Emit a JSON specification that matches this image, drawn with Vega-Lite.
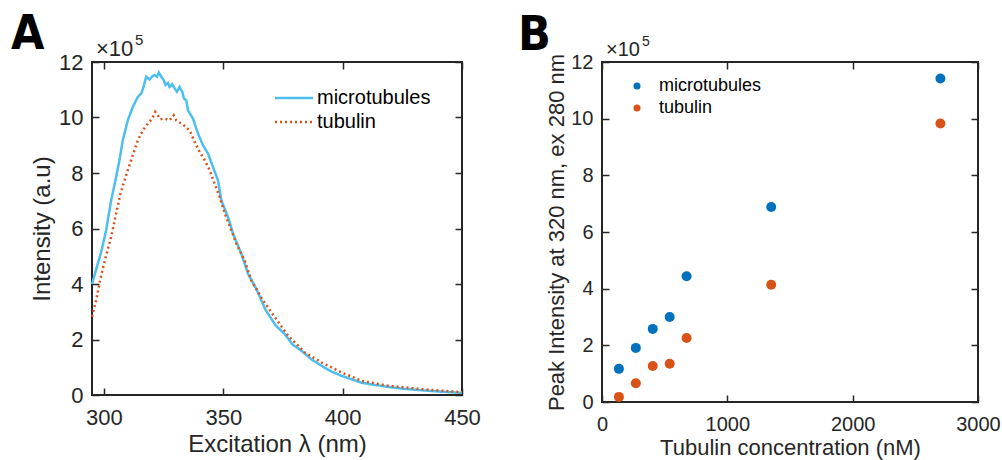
{
  "$schema": "https://vega.github.io/schema/vega-lite/v6.json",
  "background": "white",
  "padding": {"left": 10, "top": 10, "right": 5, "bottom": 5},
  "bounds": "flush",
  "spacing": 140,
  "resolve": {"scale": {"color": "independent", "strokeDash": "independent"}, "legend": {"color": "independent", "strokeDash": "independent"}},
  "datasets": {
    "spectra": [
      {"wl": 295, "I": 4.0, "s": "microtubules"},
      {"wl": 298.8, "I": 5.14, "s": "microtubules"},
      {"wl": 300.9, "I": 5.93, "s": "microtubules"},
      {"wl": 303, "I": 7.01, "s": "microtubules"},
      {"wl": 305.1, "I": 7.85, "s": "microtubules"},
      {"wl": 306.5, "I": 8.46, "s": "microtubules"},
      {"wl": 307.9, "I": 9.18, "s": "microtubules"},
      {"wl": 310, "I": 9.9, "s": "microtubules"},
      {"wl": 312.1, "I": 10.38, "s": "microtubules"},
      {"wl": 314.2, "I": 10.74, "s": "microtubules"},
      {"wl": 315.6, "I": 10.86, "s": "microtubules"},
      {"wl": 316.6, "I": 11.1, "s": "microtubules"},
      {"wl": 317.7, "I": 11.47, "s": "microtubules"},
      {"wl": 319.1, "I": 11.37, "s": "microtubules"},
      {"wl": 320.1, "I": 11.47, "s": "microtubules"},
      {"wl": 321.2, "I": 11.53, "s": "microtubules"},
      {"wl": 322.2, "I": 11.47, "s": "microtubules"},
      {"wl": 323, "I": 11.62, "s": "microtubules"},
      {"wl": 324, "I": 11.47, "s": "microtubules"},
      {"wl": 325, "I": 11.35, "s": "microtubules"},
      {"wl": 325.8, "I": 11.17, "s": "microtubules"},
      {"wl": 326.8, "I": 11.25, "s": "microtubules"},
      {"wl": 327.5, "I": 11.1, "s": "microtubules"},
      {"wl": 328.6, "I": 11.2, "s": "microtubules"},
      {"wl": 329.6, "I": 11.05, "s": "microtubules"},
      {"wl": 330.6, "I": 10.93, "s": "microtubules"},
      {"wl": 331.7, "I": 11.1, "s": "microtubules"},
      {"wl": 332.8, "I": 10.93, "s": "microtubules"},
      {"wl": 333.5, "I": 10.69, "s": "microtubules"},
      {"wl": 334.5, "I": 10.62, "s": "microtubules"},
      {"wl": 335.2, "I": 10.26, "s": "microtubules"},
      {"wl": 337.3, "I": 9.96, "s": "microtubules"},
      {"wl": 339.4, "I": 9.42, "s": "microtubules"},
      {"wl": 341.5, "I": 9.0, "s": "microtubules"},
      {"wl": 343.6, "I": 8.7, "s": "microtubules"},
      {"wl": 345.7, "I": 8.21, "s": "microtubules"},
      {"wl": 347.8, "I": 7.73, "s": "microtubules"},
      {"wl": 349.2, "I": 7.01, "s": "microtubules"},
      {"wl": 352, "I": 6.41, "s": "microtubules"},
      {"wl": 354.1, "I": 5.81, "s": "microtubules"},
      {"wl": 357.6, "I": 5.08, "s": "microtubules"},
      {"wl": 360.4, "I": 4.36, "s": "microtubules"},
      {"wl": 364, "I": 3.8, "s": "microtubules"},
      {"wl": 367.5, "I": 3.1, "s": "microtubules"},
      {"wl": 372, "I": 2.5, "s": "microtubules"},
      {"wl": 375.8, "I": 2.19, "s": "microtubules"},
      {"wl": 379, "I": 1.82, "s": "microtubules"},
      {"wl": 382.8, "I": 1.59, "s": "microtubules"},
      {"wl": 387, "I": 1.28, "s": "microtubules"},
      {"wl": 391.2, "I": 1.05, "s": "microtubules"},
      {"wl": 395, "I": 0.86, "s": "microtubules"},
      {"wl": 399.6, "I": 0.69, "s": "microtubules"},
      {"wl": 404, "I": 0.56, "s": "microtubules"},
      {"wl": 408, "I": 0.44, "s": "microtubules"},
      {"wl": 413, "I": 0.37, "s": "microtubules"},
      {"wl": 419.2, "I": 0.29, "s": "microtubules"},
      {"wl": 426, "I": 0.22, "s": "microtubules"},
      {"wl": 433.2, "I": 0.17, "s": "microtubules"},
      {"wl": 441, "I": 0.12, "s": "microtubules"},
      {"wl": 450, "I": 0.08, "s": "microtubules"},
      {"wl": 295, "I": 2.82, "s": "tubulin"},
      {"wl": 296.7, "I": 3.4, "s": "tubulin"},
      {"wl": 298.8, "I": 4.3, "s": "tubulin"},
      {"wl": 300.9, "I": 5.02, "s": "tubulin"},
      {"wl": 303, "I": 5.69, "s": "tubulin"},
      {"wl": 305.1, "I": 6.53, "s": "tubulin"},
      {"wl": 306.9, "I": 7.25, "s": "tubulin"},
      {"wl": 308.2, "I": 7.61, "s": "tubulin"},
      {"wl": 310, "I": 8.1, "s": "tubulin"},
      {"wl": 312.1, "I": 8.64, "s": "tubulin"},
      {"wl": 314.2, "I": 9.18, "s": "tubulin"},
      {"wl": 316.3, "I": 9.54, "s": "tubulin"},
      {"wl": 318.4, "I": 9.78, "s": "tubulin"},
      {"wl": 320.2, "I": 9.96, "s": "tubulin"},
      {"wl": 321.5, "I": 10.2, "s": "tubulin"},
      {"wl": 322.6, "I": 10.08, "s": "tubulin"},
      {"wl": 323.6, "I": 9.94, "s": "tubulin"},
      {"wl": 325.4, "I": 9.96, "s": "tubulin"},
      {"wl": 327.5, "I": 9.9, "s": "tubulin"},
      {"wl": 329.2, "I": 10.08, "s": "tubulin"},
      {"wl": 330.3, "I": 9.9, "s": "tubulin"},
      {"wl": 332.4, "I": 9.78, "s": "tubulin"},
      {"wl": 334.5, "I": 9.66, "s": "tubulin"},
      {"wl": 336.2, "I": 9.48, "s": "tubulin"},
      {"wl": 338, "I": 9.12, "s": "tubulin"},
      {"wl": 340.1, "I": 8.76, "s": "tubulin"},
      {"wl": 342.2, "I": 8.46, "s": "tubulin"},
      {"wl": 344.3, "I": 8.1, "s": "tubulin"},
      {"wl": 346.4, "I": 7.61, "s": "tubulin"},
      {"wl": 348.5, "I": 7.13, "s": "tubulin"},
      {"wl": 351, "I": 6.45, "s": "tubulin"},
      {"wl": 353.4, "I": 5.93, "s": "tubulin"},
      {"wl": 355.5, "I": 5.45, "s": "tubulin"},
      {"wl": 359, "I": 4.84, "s": "tubulin"},
      {"wl": 361.8, "I": 4.12, "s": "tubulin"},
      {"wl": 366, "I": 3.5, "s": "tubulin"},
      {"wl": 370.2, "I": 2.97, "s": "tubulin"},
      {"wl": 377.2, "I": 2.13, "s": "tubulin"},
      {"wl": 384.2, "I": 1.53, "s": "tubulin"},
      {"wl": 391.2, "I": 1.17, "s": "tubulin"},
      {"wl": 399.6, "I": 0.81, "s": "tubulin"},
      {"wl": 408, "I": 0.51, "s": "tubulin"},
      {"wl": 419.2, "I": 0.33, "s": "tubulin"},
      {"wl": 433.2, "I": 0.21, "s": "tubulin"},
      {"wl": 450, "I": 0.1, "s": "tubulin"}
    ],
    "peaks": [
      {"c": 135, "P": 1.17, "s": "microtubules"},
      {"c": 270, "P": 1.91, "s": "microtubules"},
      {"c": 405, "P": 2.58, "s": "microtubules"},
      {"c": 540, "P": 3.0, "s": "microtubules"},
      {"c": 675, "P": 4.44, "s": "microtubules"},
      {"c": 1350, "P": 6.88, "s": "microtubules"},
      {"c": 2700, "P": 11.42, "s": "microtubules"},
      {"c": 135, "P": 0.18, "s": "tubulin"},
      {"c": 270, "P": 0.66, "s": "tubulin"},
      {"c": 405, "P": 1.27, "s": "tubulin"},
      {"c": 540, "P": 1.35, "s": "tubulin"},
      {"c": 675, "P": 2.26, "s": "tubulin"},
      {"c": 1350, "P": 4.14, "s": "tubulin"},
      {"c": 2700, "P": 9.83, "s": "tubulin"}
    ],
    "one": [{"k": 1}]
  },
  "config": {
    "font": "Liberation Sans",
    "view": {"stroke": "#262626", "strokeWidth": 2},
    "axis": {
      "grid": false,
      "domain": false,
      "ticks": true,
      "offset": -7,
      "tickColor": "#262626",
      "tickOpacity": 1,
      "tickWidth": 1.5,
      "tickSize": 7,
      "zindex": 1,
      "labelFlush": false,
      "labelColor": "#262626",
      "labelFont": "Liberation Sans",
      "titleColor": "#262626",
      "titleFont": "Liberation Sans",
      "titleFontWeight": "normal"
    },
    "legend": {
      "labelFont": "Liberation Sans",
      "labelColor": "#000000",
      "padding": 0
    }
  },
  "hconcat": [
    {
      "width": 370,
      "height": 333,
      "resolve": {"axis": {"x": "independent", "y": "independent"}},
      "layer": [
        {
          "data": {"name": "spectra"},
          "mark": {"type": "line", "strokeWidth": 2.5, "strokeCap": "butt"},
          "encoding": {
            "x": {"field": "wl", "type": "quantitative", "scale": {"domain": [295, 450], "nice": false, "zero": false},
                  "axis": {"values": [300, 350, 400, 450], "labelFontSize": 22, "labelPadding": 12, "title": "Excitation λ (nm)", "titleFontSize": 24, "titlePadding": 4}},
            "y": {"field": "I", "type": "quantitative", "scale": {"domain": [0, 12], "nice": false, "zero": true},
                  "axis": {"values": [0, 2, 4, 6, 8, 10, 12], "labelFontSize": 22, "labelPadding": 9, "title": "Intensity (a.u)", "titleFontSize": 24, "titlePadding": 4}},
            "color": {"field": "s", "type": "nominal", "scale": {"domain": ["microtubules", "tubulin"], "range": ["#4DBEEE", "#D95319"]},
                      "legend": {"orient": "none", "legendX": 191, "legendY": 25, "title": null, "labelFontSize": 20, "symbolType": "M-2,0H2", "symbolSize": 361, "symbolStrokeWidth": 2.5, "labelOffset": 12, "rowPadding": 3}},
            "strokeDash": {"field": "s", "type": "nominal", "scale": {"domain": ["microtubules", "tubulin"], "range": [[1, 0], [2, 3]]},
                      "legend": {"orient": "none", "legendX": 191, "legendY": 25, "title": null, "labelFontSize": 20, "symbolType": "M-2,0H2", "symbolSize": 361, "symbolStrokeWidth": 2.5, "labelOffset": 12, "rowPadding": 3}}
          }
        },
        {
          "data": {"name": "spectra"},
          "mark": {"type": "point", "opacity": 0},
          "encoding": {
            "x": {"field": "wl", "type": "quantitative", "scale": {"domain": [295, 450], "nice": false, "zero": false}, "axis": {"orient": "top", "values": [300, 350, 400, 450], "labels": false, "title": null}},
            "y": {"field": "I", "type": "quantitative", "scale": {"domain": [0, 12], "nice": false, "zero": true}, "axis": {"orient": "right", "values": [0, 2, 4, 6, 8, 10, 12], "labels": false, "title": null}}
          }
        },
        {
          "data": {"name": "one"},
          "mark": {"type": "text", "text": "A", "align": "left", "baseline": "alphabetic", "dx": -81, "dy": -13, "fontSize": 48, "font": "Liberation Sans Narrow, DejaVu Sans Condensed, Liberation Sans, sans-serif", "fontWeight": "bold", "color": "#000000"},
          "encoding": {"x": {"datum": 295, "type": "quantitative", "scale": {"domain": [295, 450], "nice": false, "zero": false}, "axis": null}, "y": {"datum": 12, "type": "quantitative", "scale": {"domain": [0, 12], "nice": false, "zero": true}, "axis": null}}
        },
        {
          "data": {"name": "one"},
          "mark": {"type": "text", "text": "×10", "align": "left", "baseline": "alphabetic", "dx": 4, "dy": -6, "fontSize": 22, "color": "#262626"},
          "encoding": {"x": {"datum": 295, "type": "quantitative", "scale": {"domain": [295, 450], "nice": false, "zero": false}, "axis": null}, "y": {"datum": 12, "type": "quantitative", "scale": {"domain": [0, 12], "nice": false, "zero": true}, "axis": null}}
        },
        {
          "data": {"name": "one"},
          "mark": {"type": "text", "text": "5", "align": "left", "baseline": "alphabetic", "dx": 43, "dy": -17, "fontSize": 15, "color": "#262626"},
          "encoding": {"x": {"datum": 295, "type": "quantitative", "scale": {"domain": [295, 450], "nice": false, "zero": false}, "axis": null}, "y": {"datum": 12, "type": "quantitative", "scale": {"domain": [0, 12], "nice": false, "zero": true}, "axis": null}}
        }
      ]
    },
    {
      "width": 376,
      "height": 340,
      "resolve": {"axis": {"x": "independent", "y": "independent"}},
      "layer": [
        {
          "data": {"name": "peaks"},
          "mark": {"type": "point", "filled": true, "shape": "circle", "size": 100, "opacity": 1},
          "encoding": {
            "x": {"field": "c", "type": "quantitative", "scale": {"domain": [0, 3000], "nice": false, "zero": true},
                  "axis": {"values": [0, 1000, 2000, 3000], "format": "d", "labelFontSize": 20, "labelPadding": 12, "title": "Tubulin concentration (nM)", "titleFontSize": 22, "titlePadding": 3}},
            "y": {"field": "P", "type": "quantitative", "scale": {"domain": [0, 12], "nice": false, "zero": true},
                  "axis": {"values": [0, 2, 4, 6, 8, 10, 12], "labelFontSize": 20, "labelPadding": 9, "title": "Peak Intensity at 320 nm, ex 280 nm", "titleFontSize": 22, "titlePadding": 2}},
            "color": {"field": "s", "type": "nominal", "scale": {"domain": ["microtubules", "tubulin"], "range": ["#0072BD", "#D95319"]},
                      "legend": {"orient": "none", "legendX": 26, "legendY": 15, "title": null, "labelFontSize": 18, "symbolType": "circle", "symbolSize": 50, "labelOffset": 13, "rowPadding": 4}}
          }
        },
        {
          "data": {"name": "peaks"},
          "mark": {"type": "point", "opacity": 0},
          "encoding": {
            "x": {"field": "c", "type": "quantitative", "scale": {"domain": [0, 3000], "nice": false, "zero": true}, "axis": {"orient": "top", "values": [0, 1000, 2000, 3000], "labels": false, "title": null}},
            "y": {"field": "P", "type": "quantitative", "scale": {"domain": [0, 12], "nice": false, "zero": true}, "axis": {"orient": "right", "values": [0, 2, 4, 6, 8, 10, 12], "labels": false, "title": null}}
          }
        },
        {
          "data": {"name": "one"},
          "mark": {"type": "text", "text": "B", "align": "left", "baseline": "alphabetic", "dx": -84, "dy": -12, "fontSize": 48, "font": "Liberation Sans Narrow, DejaVu Sans Condensed, Liberation Sans, sans-serif", "fontWeight": "bold", "color": "#000000"},
          "encoding": {"x": {"datum": 0, "type": "quantitative", "scale": {"domain": [0, 3000], "nice": false, "zero": true}, "axis": null}, "y": {"datum": 12, "type": "quantitative", "scale": {"domain": [0, 12], "nice": false, "zero": true}, "axis": null}}
        },
        {
          "data": {"name": "one"},
          "mark": {"type": "text", "text": "×10", "align": "left", "baseline": "alphabetic", "dx": 4, "dy": -6, "fontSize": 20, "color": "#262626"},
          "encoding": {"x": {"datum": 0, "type": "quantitative", "scale": {"domain": [0, 3000], "nice": false, "zero": true}, "axis": null}, "y": {"datum": 12, "type": "quantitative", "scale": {"domain": [0, 12], "nice": false, "zero": true}, "axis": null}}
        },
        {
          "data": {"name": "one"},
          "mark": {"type": "text", "text": "5", "align": "left", "baseline": "alphabetic", "dx": 40, "dy": -16, "fontSize": 14, "color": "#262626"},
          "encoding": {"x": {"datum": 0, "type": "quantitative", "scale": {"domain": [0, 3000], "nice": false, "zero": true}, "axis": null}, "y": {"datum": 12, "type": "quantitative", "scale": {"domain": [0, 12], "nice": false, "zero": true}, "axis": null}}
        }
      ]
    }
  ]
}
